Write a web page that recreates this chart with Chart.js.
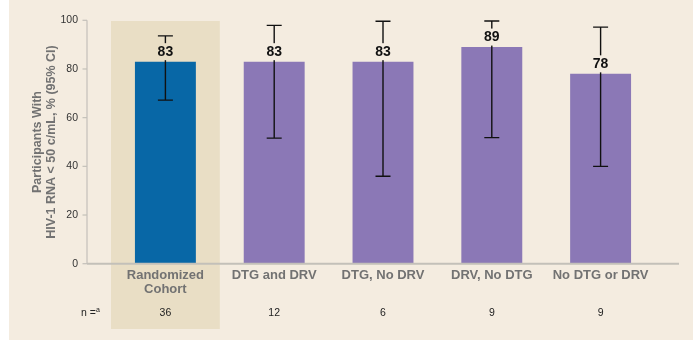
<!DOCTYPE html>
<html>
<head>
<meta charset="utf-8">
<script src="https://cdn.jsdelivr.net/npm/chart.js@4"></script>
<style>
  html, body { margin: 0; padding: 0; background: #ffffff; }
  #wrap { width: 693px; height: 340px; position: relative; }
</style>
</head>
<body>
<div id="wrap"><canvas id="chart" width="693" height="340"></canvas></div>
<script>
// Virologic response by resistance subgroup
const categories = [['Randomized', 'Cohort'], 'DTG and DRV', 'DTG, No DRV', 'DRV, No DTG', 'No DTG or DRV'];
const responseRates = [83, 83, 83, 89, 78];
const ciLower = [67.2, 51.6, 35.9, 51.8, 40.0];
const ciUpper = [93.6, 97.9, 99.6, 99.7, 97.2];
const nCounts = [36, 12, 6, 9, 9];
const yTickStep = 20;

const FONT = '"Liberation Sans", Arial, Helvetica, sans-serif';
const PAGE_BG = '#f4ece0';
const BAND_BG = '#e9dec5';
const AXIS_GRAY = '#c3c0b9';
const AXIS_EXTEND = 24;

const panelPlugin = {
  id: 'panel',
  beforeDraw(chart) {
    const { ctx, chartArea, scales } = chart;
    ctx.save();
    ctx.fillStyle = '#ffffff';
    ctx.fillRect(0, 0, chart.width, chart.height);
    ctx.fillStyle = PAGE_BG;
    ctx.fillRect(9, 0, chart.width - 9, chart.height);
    // shaded band behind the overall cohort
    const cw = (chartArea.right - chartArea.left) / categories.length;
    const cx = scales.x.getPixelForValue(0);
    const top = scales.y.getPixelForValue(100) + 0.7;
    ctx.fillStyle = BAND_BG;
    ctx.fillRect(cx - cw / 2, top, cw, 329 - top);
    ctx.restore();
  }
};

const overlayPlugin = {
  id: 'overlay',
  afterDatasetsDraw(chart) {
    const { ctx, chartArea, scales } = chart;
    const y = scales.y;
    const x = scales.x;
    ctx.save();
    // axis lines
    const axisX = chartArea.left - AXIS_EXTEND;
    ctx.strokeStyle = AXIS_GRAY;
    ctx.lineWidth = 1.2;
    ctx.beginPath();
    ctx.moveTo(axisX, y.getPixelForValue(100));
    ctx.lineTo(axisX, y.getPixelForValue(0));
    ctx.stroke();
    for (let v = 0; v <= 100; v += yTickStep) {
      const py = y.getPixelForValue(v);
      ctx.beginPath();
      ctx.moveTo(axisX - 4.5, py);
      ctx.lineTo(axisX, py);
      ctx.stroke();
    }
    ctx.lineWidth = 2;
    ctx.beginPath();
    ctx.moveTo(axisX, y.getPixelForValue(0));
    ctx.lineTo(chartArea.right + AXIS_EXTEND, y.getPixelForValue(0));
    ctx.stroke();

    // error bars with value labels
    const meta = chart.getDatasetMeta(0);
    meta.data.forEach((bar, i) => {
      const bx = bar.x;
      const hi = y.getPixelForValue(ciUpper[i]);
      const lo = y.getPixelForValue(ciLower[i]);
      ctx.strokeStyle = '#111111';
      ctx.lineWidth = 1.4;
      ctx.beginPath();
      ctx.moveTo(bx, hi); ctx.lineTo(bx, lo);
      ctx.moveTo(bx - 7.5, hi); ctx.lineTo(bx + 7.5, hi);
      ctx.moveTo(bx - 7.5, lo); ctx.lineTo(bx + 7.5, lo);
      ctx.stroke();

      const label = String(responseRates[i]);
      const ly = y.getPixelForValue(responseRates[i]) - 10;
      ctx.font = 'bold 14px ' + FONT;
      const w = ctx.measureText(label).width;
      ctx.fillStyle = i === 0 ? BAND_BG : PAGE_BG;
      ctx.fillRect(bx - w / 2 - 1, ly - 8.5, w + 2, 17);
      ctx.fillStyle = '#111111';
      ctx.textAlign = 'center';
      ctx.textBaseline = 'middle';
      ctx.fillText(label, bx, ly + 0.5);
    });

    // sample size row
    const rowY = 313;
    ctx.fillStyle = '#222222';
    ctx.font = '10.5px ' + FONT;
    ctx.textBaseline = 'middle';
    ctx.textAlign = 'center';
    nCounts.forEach((n, i) => ctx.fillText(String(n), x.getPixelForValue(i), rowY));
    ctx.textAlign = 'right';
    ctx.font = '7px ' + FONT;
    ctx.fillText('a', 100, rowY - 3);
    ctx.font = '10.5px ' + FONT;
    ctx.fillText('n =', 96, rowY);
    ctx.restore();
  }
};

new Chart(document.getElementById('chart'), {
  type: 'bar',
  data: {
    labels: categories,
    datasets: [{
      data: responseRates,
      backgroundColor: responseRates.map((_, i) => i === 0 ? '#0867a6' : '#8b78b6'),
      borderWidth: 0,
      categoryPercentage: 1,
      barPercentage: 0.56
    }]
  },
  options: {
    responsive: false,
    animation: false,
    layout: { padding: { left: 9, right: 38, top: 20.3, bottom: 0 } },
    plugins: { legend: { display: false }, tooltip: { enabled: false } },
    scales: {
      x: {
        grid: { display: false, drawTicks: false },
        border: { display: false },
        ticks: {
          autoSkip: false, maxRotation: 0, padding: 5,
          color: '#727272',
          font: { family: FONT, size: 13, weight: 'bold', lineHeight: 1.05 }
        },
        afterFit(scale) { scale.height = 76.3; scale.paddingLeft = 0; scale.paddingRight = 0; }
      },
      y: {
        min: 0, max: 100,
        grid: { display: false, drawTicks: false },
        border: { display: false },
        ticks: {
          stepSize: yTickStep, padding: 33,
          color: '#333333',
          font: { family: FONT, size: 10.5 }
        },
        title: {
          display: true,
          text: ['Participants With', 'HIV-1 RNA < 50 c/mL, % (95% CI)'],
          color: '#727272',
          font: { family: FONT, size: 12.5, weight: 'bold', lineHeight: 1.12 },
          padding: { top: 22, bottom: 0 }
        },
        afterFit(scale) { scale.width = 102; scale.paddingTop = 0; scale.paddingBottom = 0; }
      }
    }
  },
  plugins: [panelPlugin, overlayPlugin]
});
</script>
</body>
</html>
